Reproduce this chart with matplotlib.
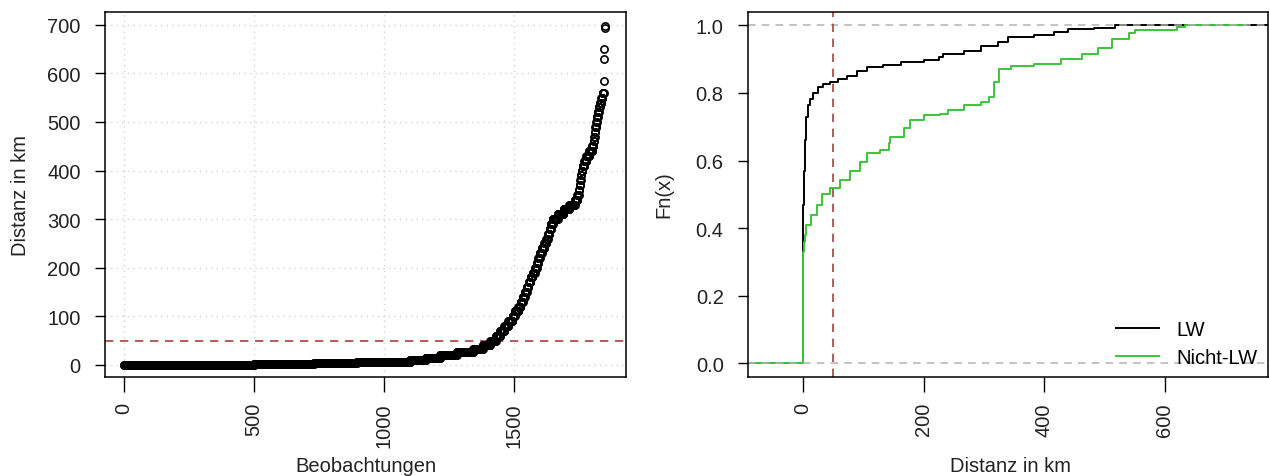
import numpy as np
import matplotlib
matplotlib.use("Agg")
import matplotlib.pyplot as plt

plt.rcParams["font.family"] = ["Liberation Sans", "DejaVu Sans"]

# Left panel: sorted distances, given as level -> number of observations <= level
dist_levels = [0, 1, 3, 6, 10, 14, 20, 26, 33, 40, 50, 60, 70, 80, 90, 100,
               110, 120, 130, 140, 150, 160, 170, 180, 190, 200, 210, 220, 230,
               240, 250, 260, 270, 280, 290, 300, 310, 320, 330, 340, 350, 360,
               370, 380, 390, 400, 410, 420, 430, 440, 450, 460, 470, 480, 490,
               500, 510, 520, 530, 540, 550, 560, 584, 630, 651, 693, 698]
cum_count = [500, 730, 895, 1100, 1160, 1215, 1280, 1343, 1380, 1408, 1430,
             1446, 1462, 1478, 1494, 1503, 1516, 1525, 1533, 1541, 1549, 1556,
             1563, 1571, 1580, 1587, 1593, 1599, 1607, 1616, 1624, 1630, 1636,
             1642, 1649, 1668, 1690, 1712, 1733, 1743, 1749, 1752, 1755, 1757,
             1759, 1763, 1770, 1778, 1788, 1800, 1806, 1808, 1810, 1812, 1816,
             1818, 1822, 1826, 1830, 1835, 1840, 1845, 1846, 1847, 1848, 1849,
             1850]

# Right panel: ECDF knots for the two groups
lw_x = [0, 1, 2, 3.5, 6, 8, 12, 17, 25, 33, 45, 58, 73, 90, 106, 133, 162,
        200, 225, 233, 267, 295, 323, 340, 383, 417, 440, 483, 517]
lw_F = [0.275, 0.47, 0.57, 0.66, 0.73, 0.763, 0.783, 0.80, 0.817, 0.827,
        0.832, 0.84, 0.851, 0.866, 0.876, 0.883, 0.89, 0.898, 0.905, 0.915,
        0.925, 0.939, 0.949, 0.964, 0.971, 0.98, 0.988, 0.993, 1.0]
nlw_x = [0, 1, 2, 3, 6, 14, 23, 31, 45, 62, 78, 95, 106, 128, 142, 145, 167,
         178, 200, 228, 240, 267, 295, 308, 317, 325, 345, 383, 428, 462, 490,
         512, 540, 550, 620, 633]
nlw_F = [0.27, 0.33, 0.36, 0.38, 0.41, 0.44, 0.47, 0.50, 0.52, 0.543, 0.568,
         0.597, 0.622, 0.631, 0.651, 0.67, 0.695, 0.719, 0.736, 0.739, 0.749,
         0.763, 0.773, 0.788, 0.832, 0.871, 0.879, 0.886, 0.90, 0.915, 0.934,
         0.959, 0.977, 0.986, 0.996, 1.0]

cutoff = 50
red = "#a84040"
green = "#3cc43c"
fs = 14.5

fig = plt.figure(figsize=(12.69, 4.77), dpi=100)
ax1 = fig.add_axes([0.0827, 0.2075, 0.4106, 0.7659])
ax2 = fig.add_axes([0.5894, 0.2075, 0.4098, 0.7659])

# ---- left: sorted distances
counts = np.diff([0] + cum_count)
dist = np.repeat(dist_levels, counts)
obs = np.arange(1, len(dist) + 1)

ax1.set_xlim(-73, 1931)
ax1.set_ylim(-25, 727)
ax1.set_xticks([0, 500, 1000, 1500])
ax1.set_yticks(range(0, 701, 100))
for v in [0, 500, 1000, 1500]:
    ax1.axvline(v, color="#d3d3d3", ls=(0, (1, 3)), lw=1, zorder=0)
for v in range(0, 701, 100):
    ax1.axhline(v, color="#d3d3d3", ls=(0, (1, 3)), lw=1, zorder=0)
ax1.axhline(cutoff, color=red, ls=(0, (5, 4)), lw=1.2, zorder=1)
ax1.plot(obs, dist, ls="none", marker="o", ms=5.2, mfc="none", mec="black",
         mew=1.2, zorder=2)

# ---- right: ECDFs
xl, xr = -91, 771
ax2.set_xlim(xl, xr)
ax2.set_ylim(-0.04, 1.04)
ax2.step([xl - 20] + lw_x + [xr + 20], [0] + lw_F + [1.0], where="post",
         color="black", lw=1.4, label="LW")
ax2.step([xl - 20] + nlw_x + [734], [0] + nlw_F + [1.0], where="post",
         color=green, lw=1.4, label="Nicht-LW")
ax2.axhline(0, color="#b3b3b3", ls=(0, (5, 4)), lw=1.1)
ax2.axhline(1, color="#b3b3b3", ls=(0, (5, 4)), lw=1.1)
ax2.axvline(cutoff, color=red, ls=(0, (5, 4)), lw=1.2)
ax2.set_xticks([0, 200, 400, 600])
ax2.set_yticks([0, 0.2, 0.4, 0.6, 0.8, 1.0])
ax2.set_yticklabels(["0.0", "0.2", "0.4", "0.6", "0.8", "1.0"])
ax2.legend(loc="lower right", frameon=False, fontsize=fs, handlelength=2.1,
           handletextpad=0.9, labelspacing=0.45, borderpad=0.2,
           borderaxespad=0.3)

for ax in (ax1, ax2):
    for s in ax.spines.values():
        s.set_linewidth(1.1)
        s.set_color("black")
    ax.tick_params(axis="y", labelsize=fs, length=7.5, width=1, pad=10,
                   labelcolor="#222222")
    ax.tick_params(axis="x", labelsize=fs, length=11, width=1, pad=7,
                   labelrotation=90, labelcolor="#222222")

fig.text(0.0165, 0.591, "Distanz in km", rotation=90, ha="center",
         va="center", fontsize=fs, color="#222222")
fig.text(0.288, 0.021, "Beobachtungen", ha="center", va="center",
         fontsize=fs, color="#222222")
fig.text(0.5232, 0.591, "Fn(x)", rotation=90, ha="center", va="center",
         fontsize=fs, color="#222222")
fig.text(0.796, 0.021, "Distanz in km", ha="center", va="center",
         fontsize=fs, color="#222222")

fig.savefig("out.png", dpi=100)
